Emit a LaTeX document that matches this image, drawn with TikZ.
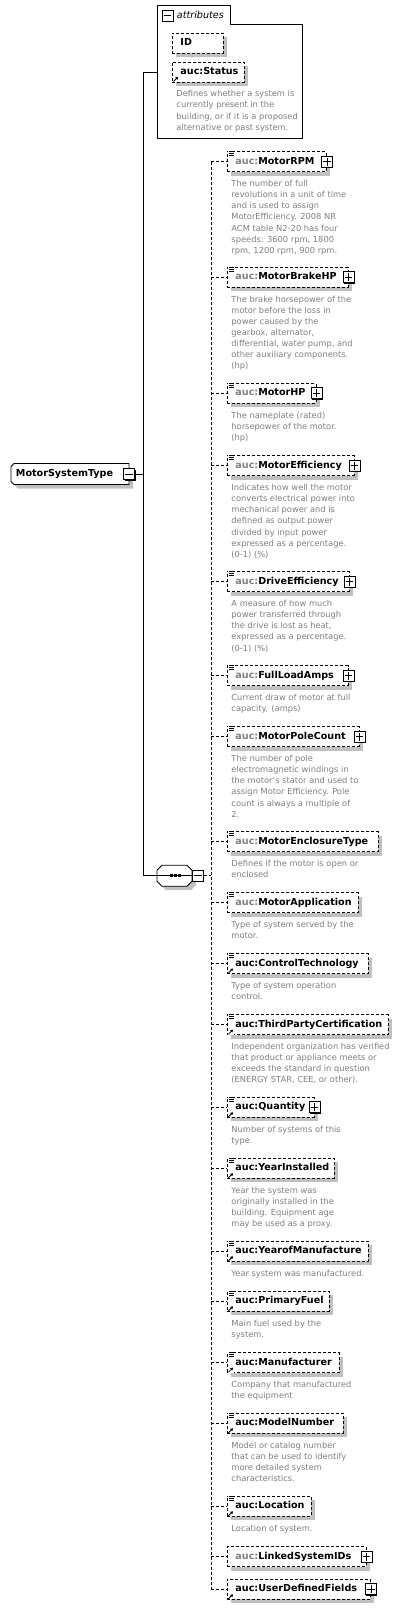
\documentclass[tikz,border=0pt]{standalone}
\usepackage{fontspec}
\setmainfont{DejaVu Sans}
\usetikzlibrary{shadows,arrows.meta}
\definecolor{shadowgray}{RGB}{192,192,192}
\definecolor{descgray}{RGB}{125,125,135}
\definecolor{pfxgray}{RGB}{128,128,128}

\begin{document}
\begin{tikzpicture}[x=1pt,y=-1pt,line width=0.9pt,
        shd/.style={drop shadow={shadow xshift=4pt,shadow yshift=-4pt,
                        opacity=1,fill=shadowgray}},
        el/.style={draw,dash pattern=on 3pt off 2pt,fill=white,shd,
                        anchor=west,minimum height=20pt,inner xsep=8pt,
                        text width=#1,align=left,
                        text height=7pt,text depth=2pt,
                        font=\fontsize{9.6}{11}\selectfont\bfseries},
        desc/.style={anchor=north west,xshift=4pt,yshift=-7.5pt,
                        inner sep=0pt,align=left,text=descgray,
                        font=\fontsize{8.3}{11.15}\selectfont},
        pbox/.style={draw,solid,fill=white,line width=0.8pt,
                        minimum size=11pt,inner sep=0pt,
                        drop shadow={shadow xshift=1pt,shadow yshift=-1pt,
                        opacity=1,fill=black}},
        wire/.style={dash pattern=on 3pt off 2pt}]
    \useasboundingbox (0,0) rectangle (402,1609);
    \coordinate (bus) at (143,0);
    \coordinate (spine) at (211,0);
    \coordinate (attr) at (157,72);

    \draw (157,5) -- (230,5) -- (230,24) -- (302,24) -- (302,138)
        -- (157,138) -- cycle;
    \node[pbox] (attr-x) at (167.5,15.5) {};
    \draw[line width=0.8pt] ([xshift=2pt]attr-x.west) -- ([xshift=-2pt]attr-x.east);
    \node[anchor=west,inner sep=0pt,
        font=\fontsize{9.6}{11}\selectfont\itshape] (attr-t) at (176.5,15) {attributes};
    \node[el=35pt] (id) at (172,43) {ID};
    \node[el=56pt] (status) at (172,72) {auc:Status};
    \node[desc] (status-d) at (status.south west) {Defines whether a system is\\currently present in the\\building, or if it is a proposed\\alternative or past system.};

    \draw[fill=white,shd] (14,463.5) -- (129,463.5) -- (129,484.5) -- (14,484.5)
        -- (11,481.5) -- (11,466.5) -- cycle;
    \node[anchor=west,minimum height=21pt,inner xsep=5pt,outer sep=0pt,
        text width=108pt,text height=7pt,text depth=2pt,
        font=\fontsize{9.6}{11}\selectfont\bfseries] (mst) at (11,474) {MotorSystemType};
    \draw[fill=white,shd] (162,865.2) -- (187,865.2) -- (192,870.2) -- (192,881.2)
        -- (187,886.2) -- (162,886.2) -- (157,881.2) -- (157,870.2) -- cycle;
    \node[anchor=west,minimum width=35pt,minimum height=21pt,
        inner sep=0pt,outer sep=0pt] (seq) at (157,875.7) {};
    \draw (seq.west) -- (seq.east);
    \foreach \d in {-5,-1,3}
        \fill ([xshift=\d pt,yshift=1.5pt]seq.center) rectangle +(3,3);

    \draw (attr) -- (attr -| bus) -- (seq.west -| bus) -- (seq.west);

    \node[el=83pt] (rpm) at (227,161.7) {{\color{pfxgray}auc:}MotorRPM};
    \node[desc] (rpm-d) at (rpm.south west) {The number of full\\revolutions in a unit of time\\and is used to assign\\MotorEfficiency. 2008 NR\\ACM table N2-20 has four\\speeds: 3600 rpm, 1800\\rpm, 1200 rpm, 900 rpm.};
    \node[el=104.5pt] (brake) at (227,277.3) {{\color{pfxgray}auc:}MotorBrakeHP};
    \node[desc] (brake-d) at (brake.south west) {The brake horsepower of the\\motor before the loss in\\power caused by the\\gearbox, alternator,\\differential, water pump, and\\other auxiliary components.\\(hp)};
    \node[el=72.5pt] (hp) at (227,393.3) {{\color{pfxgray}auc:}MotorHP};
    \node[desc] (hp-d) at (hp.south west) {The nameplate (rated)\\horsepower of the motor.\\(hp)};
    \node[el=110.5pt] (eff) at (227,465.7) {{\color{pfxgray}auc:}MotorEfficiency};
    \node[desc] (eff-d) at (eff.south west) {Indicates how well the motor\\converts electrical power into\\mechanical power and is\\defined as output power\\divided by input power\\expressed as a percentage.\\(0-1) (\%)};
    \node[el=105.5pt] (drive) at (227,581.7) {{\color{pfxgray}auc:}DriveEfficiency};
    \node[desc] (drive-d) at (drive.south west) {A measure of how much\\power transferred through\\the drive is lost as heat,\\expressed as a percentage.\\(0-1) (\%)};
    \node[el=104.5pt] (amps) at (227,675.7) {{\color{pfxgray}auc:}FullLoadAmps};
    \node[desc] (amps-d) at (amps.south west) {Current draw of motor at full\\capacity. (amps)};
    \node[el=115.5pt] (poles) at (227,736.7) {{\color{pfxgray}auc:}MotorPoleCount};
    \node[desc] (poles-d) at (poles.south west) {The number of pole\\electromagnetic windings in\\the motor's stator and used to\\assign Motor Efficiency. Pole\\count is always a multiple of\\2.};
    \node[el=135pt] (encl) at (227,841.7) {{\color{pfxgray}auc:}MotorEnclosureType};
    \node[desc] (encl-d) at (encl.south west) {Defines if the motor is open or\\enclosed};
    \node[el=115pt] (appl) at (227,902.7) {{\color{pfxgray}auc:}MotorApplication};
    \node[desc] (appl-d) at (appl.south west) {Type of system served by the\\motor.};
    \node[el=125pt] (ctrl) at (227,963.5) {auc:ControlTechnology};
    \node[desc] (ctrl-d) at (ctrl.south west) {Type of system operation\\control.};
    \node[el=145pt] (cert) at (227,1024.7) {auc:ThirdPartyCertification};
    \node[desc] (cert-d) at (cert.south west) {Independent organization has verified\\that product or appliance meets or\\exceeds the standard in question\\(ENERGY STAR, CEE, or other).};
    \node[el=70.5pt] (qty) at (227,1107.3) {auc:Quantity};
    \node[desc] (qty-d) at (qty.south west) {Number of systems of this\\type.};
    \node[el=91pt] (yinst) at (227,1168.3) {auc:YearInstalled};
    \node[desc] (yinst-d) at (yinst.south west) {Year the system was\\originally installed in the\\building. Equipment age\\may be used as a proxy.};
    \node[el=125pt] (ymanuf) at (227,1251.3) {auc:YearofManufacture};
    \node[desc] (ymanuf-d) at (ymanuf.south west) {Year system was manufactured.};
    \node[el=86pt] (fuel) at (227,1301.3) {auc:PrimaryFuel};
    \node[desc] (fuel-d) at (fuel.south west) {Main fuel used by the\\system.};
    \node[el=96pt] (manuf) at (227,1362.7) {auc:Manufacturer};
    \node[desc] (manuf-d) at (manuf.south west) {Company that manufactured\\the equipment};
    \node[el=100pt] (model) at (227,1423.3) {auc:ModelNumber};
    \node[desc] (model-d) at (model.south west) {Model or catalog number\\that can be used to identify\\more detailed system\\characteristics.};
    \node[el=68pt] (loc) at (227,1506.3) {auc:Location};
    \node[desc] (loc-d) at (loc.south west) {Location of system.};
    \node[el=122.5pt] (linked) at (227,1556.7) {{\color{pfxgray}auc:}LinkedSystemIDs};
    \node[el=127pt] (udf) at (227,1589.3) {auc:UserDefinedFields};

    \node[pbox] (mst-x) at (mst.east) {};
    \draw[line width=0.8pt] ([xshift=2pt]mst-x.west) -- ([xshift=-2pt]mst-x.east);
    \node[pbox,anchor=west] (seq-x) at (seq.east) {};
    \draw[line width=0.8pt] ([xshift=2pt]seq-x.west) -- ([xshift=-2pt]seq-x.east);
    \draw (mst-x.east) -- (mst-x.east -| bus);

    \draw[wire] (seq-x.east) -- (seq-x.east -| spine);
    \draw[wire] (rpm.west -| spine) -- (udf.west -| spine);
    \foreach \n in {rpm,brake,hp,eff,drive,amps,poles,encl,appl,ctrl,cert,
                    qty,yinst,ymanuf,fuel,manuf,model,loc,linked,udf}
        \draw[wire] (\n.west -| spine) -- (\n.west);

    \foreach \n in {rpm,brake,hp,eff,drive,amps,poles,qty,linked,udf}{
        \node[pbox] (\n-x) at (\n.east) {};
        \draw[line width=0.8pt] ([xshift=2pt]\n-x.west) -- ([xshift=-2pt]\n-x.east)
            ([yshift=-2pt]\n-x.north) -- ([yshift=2pt]\n-x.south);
    }
    \foreach \n in {rpm,brake,hp,eff,drive,amps,poles,encl,appl,ctrl,cert,
                    qty,yinst,ymanuf,fuel,manuf,model,loc}{
        \fill[white,shift={(\n.north west)}] (1,-1) rectangle (7,5.5);
        \draw[line width=0.7pt,shift={(\n.north west)}] (1.5,0.5) -- (6.5,0.5)
            (2,2.5) -- (6.5,2.5) (2,4.5) -- (6.5,4.5);
    }
    \foreach \n in {status,ctrl,cert,qty,yinst,ymanuf,fuel,manuf,model,loc,udf}{
        \fill[white,shift={(\n.south west)}] (1,-7) rectangle (7,-0.5);
        \draw[line width=0.8pt,-{Triangle[length=2.5pt,width=3pt]},
            shift={(\n.south west)}] (1.5,-1) -- (6,-5.5);
    }
\end{tikzpicture}
\end{document}
